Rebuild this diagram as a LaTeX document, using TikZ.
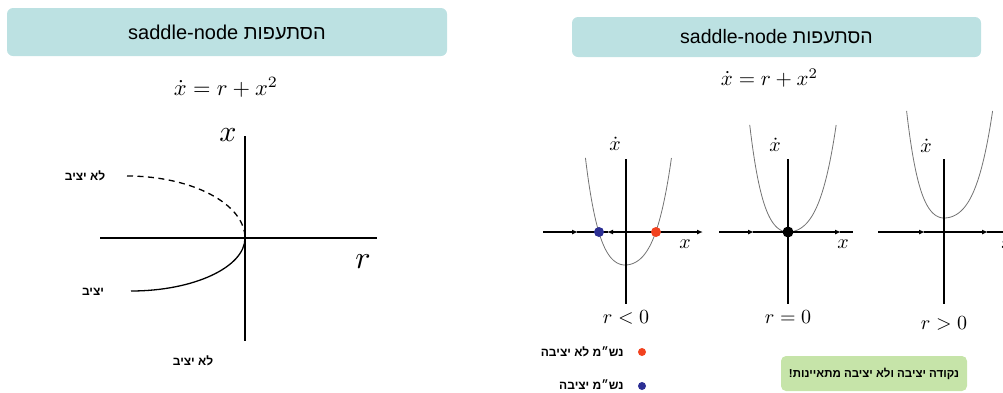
\documentclass[tikz,border=0pt]{standalone}
\usepackage{graphicx}
\usepackage[no-math]{fontspec}
\setmainfont{Liberation Sans}
\newfontfamily\hebfont[Script=Hebrew]{Liberation Sans}
\TeXXeTstate=1
\usetikzlibrary{arrows.meta}
\definecolor{titleteal}{HTML}{BCE1E2}
\definecolor{notegreen}{HTML}{C6E4A9}
\definecolor{fpred}{HTML}{F2421F}
\definecolor{fpblue}{HTML}{2C2F94}
\newcommand{\heb}[1]{{\hebfont\beginR #1\endR}}
\newcommand{\fsz}[1]{\fontsize{#1}{#1}\selectfont}
\newcommand{\bigmath}[2]{\scalebox{#1}{$#2$}}

\begin{document}
\begin{tikzpicture}[x=1pt, y=-1pt,
    titlebox/.style={fill=titleteal, rounded corners=6pt},
    axis/.style={line width=1.5pt},
    flow/.style={line width=1.5pt, -{Latex[length=6pt, width=5pt]}},
    branch/.style={line width=1.3pt},
    curve/.style={black!55, line width=0.8pt},
    lbl/.style={font=\fsz{12}\bfseries}]
\useasboundingbox (0,0) rectangle (1003,392);

% Left: bifurcation diagram
\node[titlebox, minimum width=440, minimum height=48] (ltitle) at (227,32)
    {\fsz{20}saddle-node \heb{הסתעפות}};
\node (leq) at (226,87) {\bigmath{2.25}{\dot x = r + x^2}};

\draw[axis] (100,238) -- (377,238);
\draw[axis] (245,136) -- (245,341);
\node (lx) at (228,135) {\bigmath{3}{x}};
\node (lr) at (363,262) {\bigmath{3.2}{r}};

% Branches of fixed points
\draw[branch, dash pattern=on 6pt off 4.5pt]
    (127,176) .. controls (192,176) and (245,204) .. (245,238);
\draw[branch] (131,291) .. controls (194,291) and (245,267) .. (245,238);

\node[lbl] (unstup) at (85,176) {\heb{לא יציב}};
\node[lbl] (stdown) at (93,292) {\heb{יציב}};
\node[lbl] (unstlow) at (193,361) {\heb{לא יציב}};

% Right: phase lines
\node[titlebox, minimum width=409, minimum height=40] (rtitle) at (776.5,37)
    {\fsz{19.5}saddle-node \heb{הסתעפות}};
\node (req) at (769.5,78) {\bigmath{2.1}{\dot x = r + x^2}};

% r < 0
\draw[curve] plot[domain=-4.3:0, samples=40]
    ({625+9.2*\x}, {265-(2.72*\x*\x+0.166*\x*\x*\x*\x)});
\draw[curve] plot[domain=0:4.3, samples=40]
    ({625+10.8*\x}, {265-(2.72*\x*\x+0.166*\x*\x*\x*\x)});
\draw[axis] (626,159) -- (626,304);
\draw[flow] (543,232) -- (578,232);
\draw[axis] (577,232) -- (608,232);
\draw[flow] (656,232) -- (607,232);
\draw[flow] (656,232) -- (703,232);
\fill[fpblue] (599,232) circle (5);
\fill[fpred] (656,232) circle (5);
\node (dx1) at (615,144) {\bigmath{2}{\dot x}};
\node (x1) at (685,244) {\bigmath{2}{x}};
\node (r1) at (626,317) {\bigmath{2}{r<0}};

% r = 0
\draw[curve] plot[domain=-4.3:0, samples=40]
    ({788+8.9*\x}, {232-(2.72*\x*\x+0.166*\x*\x*\x*\x)});
\draw[curve] plot[domain=0:4.3, samples=40]
    ({788+11.2*\x}, {232-(2.72*\x*\x+0.166*\x*\x*\x*\x)});
\draw[axis] (788,159) -- (788,304);
\draw[flow] (719,232) -- (754,232);
\draw[flow] (753,232) -- (841,232);
\draw[axis] (840,232) -- (853,232);
\fill (788,232) circle (5.5);
\node (dx2) at (775,145) {\bigmath{2}{\dot x}};
\node (x2) at (843,244) {\bigmath{2}{x}};
\node (r2) at (788,317) {\bigmath{2}{r=0}};

% r > 0
\draw[curve] plot[domain=-4.3:0, samples=40]
    ({944+8.7*\x}, {218-(2.72*\x*\x+0.166*\x*\x*\x*\x)});
\draw[curve] plot[domain=0:4.3, samples=40]
    ({944+11.3*\x}, {218-(2.72*\x*\x+0.166*\x*\x*\x*\x)});
\draw[axis] (944,159) -- (944,304);
\draw[flow] (878,232) -- (925,232);
\draw[flow] (924,232) -- (988,232);
\draw[axis] (987,232) -- (1010,232);
\node (dx3) at (926,146) {\bigmath{2}{\dot x}};
\node (x3) at (1007,244) {\bigmath{2}{x}};
\node (r3) at (944,323) {\bigmath{2}{r>0}};

% Legend
\fill[fpred] (642,352) circle (4);
\node[lbl, anchor=east] (unstkey) at (627,352) {\heb{נש״מ לא יציבה}};
\fill[fpblue] (642,386) circle (4);
\node[lbl, anchor=east] (stkey) at (627,385) {\heb{נש״מ יציבה}};

\node[fill=notegreen, rounded corners=5pt, minimum width=186, minimum height=35,
    font=\fsz{11.5}\bfseries] (note) at (874,373.5)
    {\heb{נקודה יציבה ולא יציבה מתאיינות!}};
\end{tikzpicture}
\end{document}
